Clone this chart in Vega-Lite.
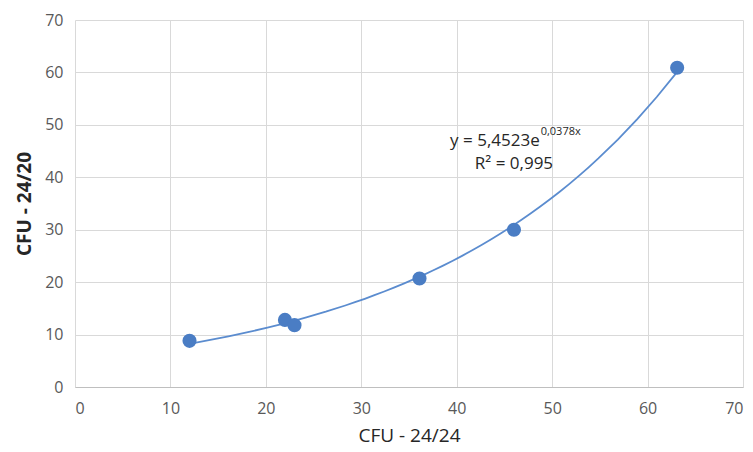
{
  "$schema": "https://vega.github.io/schema/vega-lite/v6.json",
  "width": 668,
  "height": 367,
  "autosize": {"type": "none"},
  "padding": {"left": 75, "top": 20, "right": 10, "bottom": 65},
  "background": "white",
  "config": {
    "view": {"stroke": null},
    "font": "Open Sans",
    "axis": {
      "gridColor": "#d9d9d9",
      "gridWidth": 1,
      "domainColor": "#bfbfbf",
      "tickColor": "#bfbfbf",
      "labelColor": "#595959",
      "labelFontSize": 16,
      "titleColor": "#262626",
      "titleFontSize": 19
    }
  },
  "datasets": {
    "pts": [
      {"x": 12, "y": 8.8},
      {"x": 22, "y": 12.8},
      {"x": 23, "y": 11.8},
      {"x": 36.1, "y": 20.7},
      {"x": 46, "y": 30},
      {"x": 63.1, "y": 60.9}
    ],
    "notes": [
      {"x": 48.7, "y": 47.0, "t": "y = 5,4523e", "kind": "main"},
      {"x": 48.8, "y": 48.6, "t": "0,0378x", "kind": "sup"},
      {"x": 46.0, "y": 42.5, "t": "R² = 0,995", "kind": "r2"}
    ]
  },
  "layer": [
    {
      "data": {"name": "pts"},
      "transform": [
        {"regression": "y", "on": "x", "method": "exp", "extent": [12, 63]}
      ],
      "mark": {"type": "line", "color": "#5b8ccf", "strokeWidth": 1.8},
      "encoding": {
        "x": {
          "field": "x", "type": "quantitative",
          "scale": {"domain": [0, 70], "nice": false},
          "axis": {"values": [0,10,20,30,40,50,60,70], "title": "CFU - 24/24", "titleFontWeight": "normal", "labelPadding": 13, "titlePadding": 10, "ticks": false, "domain": true}
        },
        "y": {
          "field": "y", "type": "quantitative",
          "scale": {"domain": [0, 70], "nice": false},
          "axis": {"values": [0,10,20,30,40,50,60,70], "title": "CFU - 24/20", "titleFontWeight": "bold", "labelPadding": 12, "titlePadding": 10, "ticks": false, "domain": false}
        }
      }
    },
    {
      "data": {"name": "pts"},
      "mark": {"type": "circle", "size": 200, "color": "#4a7dc4", "opacity": 1},
      "encoding": {
        "x": {"field": "x", "type": "quantitative"},
        "y": {"field": "y", "type": "quantitative"}
      }
    },
    {
      "data": {"name": "notes"},
      "transform": [{"filter": "datum.kind == 'main'"}],
      "mark": {"type": "text", "align": "right", "baseline": "middle", "fontSize": 17, "color": "#262626"},
      "encoding": {
        "x": {"field": "x", "type": "quantitative"},
        "y": {"field": "y", "type": "quantitative"},
        "text": {"field": "t"}
      }
    },
    {
      "data": {"name": "notes"},
      "transform": [{"filter": "datum.kind == 'sup'"}],
      "mark": {"type": "text", "align": "left", "baseline": "middle", "fontSize": 11, "color": "#262626"},
      "encoding": {
        "x": {"field": "x", "type": "quantitative"},
        "y": {"field": "y", "type": "quantitative"},
        "text": {"field": "t"}
      }
    },
    {
      "data": {"name": "notes"},
      "transform": [{"filter": "datum.kind == 'r2'"}],
      "mark": {"type": "text", "align": "center", "baseline": "middle", "fontSize": 17, "color": "#262626"},
      "encoding": {
        "x": {"field": "x", "type": "quantitative"},
        "y": {"field": "y", "type": "quantitative"},
        "text": {"field": "t"}
      }
    }
  ]
}
